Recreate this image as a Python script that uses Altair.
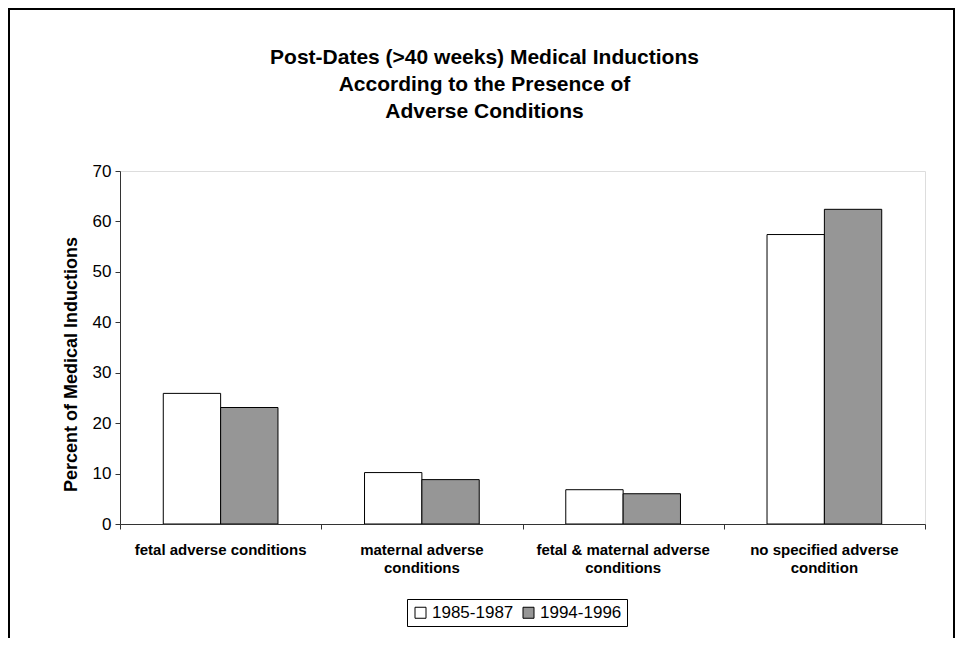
import altair as alt
import pandas as pd

categories = [
    "fetal adverse conditions",
    "maternal adverse conditions",
    "fetal & maternal adverse conditions",
    "no specified adverse condition",
]
label_lines = [
    ["fetal adverse conditions"],
    ["maternal adverse", "conditions"],
    ["fetal & maternal adverse", "conditions"],
    ["no specified adverse", "condition"],
]
periods = ["1985-1987", "1994-1996"]
values_1985 = [25.9, 10.2, 6.8, 57.4]
values_1994 = [23.1, 8.8, 6.0, 62.4]
title_lines = [
    "Post-Dates (>40 weeks) Medical Inductions",
    "According to the Presence of",
    "Adverse Conditions",
]
y_ticks = [0, 10, 20, 30, 40, 50, 60, 70]

rows = []
for i, c in enumerate(categories):
    rows.append({"category": c, "idx": i, "period": periods[0], "value": values_1985[i]})
    rows.append({"category": c, "idx": i, "period": periods[1], "value": values_1994[i]})
df = pd.DataFrame(rows)

# label expression mapping each category to its wrapped lines
expr = "datum.label"
for c, lines in reversed(list(zip(categories, label_lines))):
    arr = "[" + ",".join("'" + l.replace("'", "\\'") + "'" for l in lines) + "]"
    expr = f"datum.label == '{c}' ? {arr} : ({expr})"

FONT = "Liberation Sans"
W, H = 805, 353

yscale = alt.Scale(domain=[0, 70], nice=False)
yaxis = alt.Axis(
    values=y_ticks, grid=False, domainColor="#333333", tickColor="#333333",
    tickSize=5, labelFontSize=17, labelFont=FONT, labelColor="black", labelPadding=4,
    title="Percent of Medical Inductions", titleFont=FONT, titleFontSize=18,
    titleFontWeight="bold", titleColor="black", titleAngle=270,
    titleX=-49, titleY=193, titleAlign="center", titleBaseline="middle", zindex=1,
)

frame = alt.Chart(df).mark_rect(
    filled=False, stroke="black", strokeWidth=2, clip=False
).encode(
    x=alt.value(-111), x2=alt.value(834), y=alt.value(-162), y2=alt.value(480)
).transform_filter("datum.idx == 0 && datum.period == '1985-1987'")

ticks_layer = alt.Chart(df).mark_point(opacity=0).encode(
    x=alt.X("idx:Q", scale=alt.Scale(domain=[0, 4], nice=False, zero=False),
            axis=alt.Axis(orient="bottom", values=[0, 1, 2, 3, 4], labels=False,
                          domain=False, grid=False, tickSize=5, tickColor="#333333",
                          title=None)),
    y=alt.Y("value:Q", scale=yscale, axis=yaxis),
)

bars = alt.Chart(df).mark_bar(stroke="black", strokeWidth=1).encode(
    x=alt.X("category:N", sort=categories,
            scale=alt.Scale(paddingInner=0.43, paddingOuter=0.215),
            axis=alt.Axis(orient="bottom", title=None, labelAngle=0, ticks=False,
                          domainColor="#333333", labelExpr=expr, labelFont=FONT,
                          labelFontSize=15, labelFontWeight="bold", labelColor="black",
                          labelLineHeight=18, labelPadding=18, labelLimit=400, zindex=1)),
    xOffset=alt.XOffset("period:N", sort=periods, scale=alt.Scale(paddingInner=0, paddingOuter=0)),
    y=alt.Y("value:Q", scale=yscale, axis=yaxis),
    fill=alt.Fill("period:N", sort=periods,
                  scale=alt.Scale(domain=periods, range=["#ffffff", "#969696"]),
                  legend=alt.Legend(
                      title=None, orient="none", legendX=287, legendY=428,
                      direction="horizontal", strokeColor="black", padding=5,
                      symbolType="square", symbolSize=121, symbolStrokeColor="black",
                      symbolStrokeWidth=1, labelFont=FONT, labelFontSize=17,
                      labelColor="black", columnPadding=6, labelOffset=3)),
)

chart = alt.layer(frame, ticks_layer, bars).resolve_scale(x="independent").properties(
    width=W, height=H,
    autosize=alt.AutoSizeParams(type="none"),
    padding={"left": 112, "top": 163, "right": 30, "bottom": 114},
    title=alt.TitleParams(
        text=title_lines, font=FONT, fontSize=21, fontWeight="bold", color="black",
        lineHeight=27, anchor="middle", dx=-38, offset=-114,
    ),
).configure_view(stroke="#a0a0a0", strokeWidth=1).configure(background="white")

chart.save("out.html", embed_options={"renderer": "svg", "actions": False})
